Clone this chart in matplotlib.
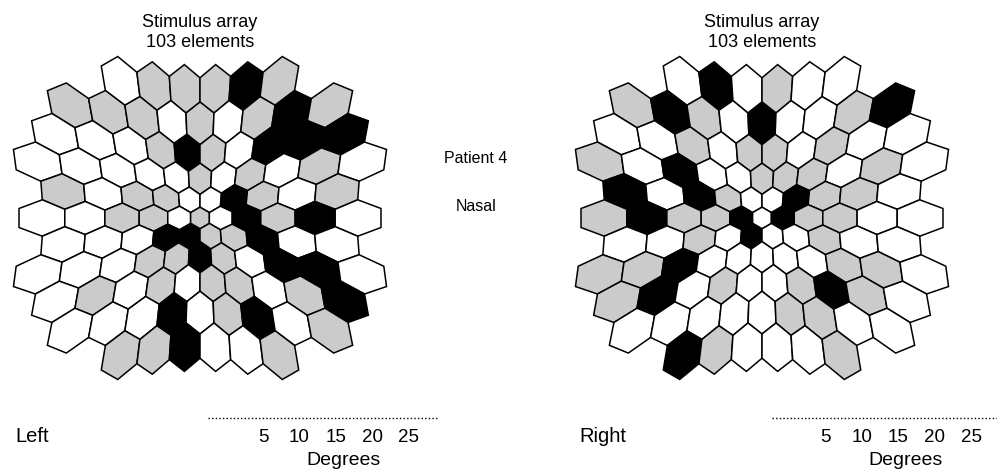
import numpy as np
import matplotlib.pyplot as plt
from matplotlib.patches import Polygon

# colour of each stimulus element, row by row from the top
# (w = white, g = grey, k = black)
left_eye = [
    "wgggkg",
    "gggwgwgkg",
    "wwwgkgwkkk",
    "wwwwwgwgwgw",
    "gwggwwkgwg",
    "wwggwgwkgkw",
    "wwwkkggkww",
    "wwwggkgwkkw",
    "wgwgwggwgk",
    "wwwkwgkwg",
    "ggkwwg",
]
right_eye = [
    "wkwgww",
    "gkgwkwwgk",
    "wwgwggwgww",
    "gwkwwgggwgw",
    "kwkgwwkggw",
    "gkggkwkggww",
    "wwgwkwwgww",
    "ggkwwwwwggw",
    "gkwgwwgkgw",
    "wwwwwggww",
    "kgwwwg",
]
degree_ticks = [5, 10, 15, 20, 25]

fills = {"w": "#ffffff", "g": "#cbcbcb", "k": "#000000"}
A, B = 17.1, 2.87          # radial scaling: pixels per lattice unit = A + B*r
R_HEX = 1 / np.sqrt(3)
ang = np.radians([90, 30, -30, -90, -150, 150])
hex_dx = R_HEX * np.cos(ang)
hex_dy = -R_HEX * np.sin(ang)


def warp(x, y, cx, cy):
    r = np.hypot(x, y)
    s = A + B * r
    return cx + x * s, cy + y * s


def draw_array(ax, rows, cx, cy):
    nrows = len(rows)
    for i, row in enumerate(rows):
        r = i - nrows // 2
        n = len(row)
        for j, c in enumerate(row):
            x0 = j - (n - 1) / 2
            y0 = r * np.sqrt(3) / 2
            px, py = warp(x0 + hex_dx, y0 + hex_dy, cx, cy)
            ax.add_patch(Polygon(np.column_stack([px, py]), closed=True,
                                 facecolor=fills[c], edgecolor="black",
                                 linewidth=1.1, joinstyle="miter"))


fig = plt.figure(figsize=(9.97, 4.71), dpi=100)
ax = fig.add_axes([0, 0, 1, 1])
ax.set_xlim(0, 997)
ax.set_ylim(471, 0)
ax.axis("off")

font = ["Liberation Sans", "DejaVu Sans"]

for rows, cx, name, bar0, x0deg in [(left_eye, 200, "Left", 208, 226.6),
                                    (right_eye, 762, "Right", 772, 789.0)]:
    draw_array(ax, rows, cx, 218)
    ax.text(cx, 27, "Stimulus array", ha="center", va="baseline",
            fontsize=13, family=font)
    ax.text(cx, 47, "103 elements", ha="center", va="baseline",
            fontsize=13, family=font)
    ax.text(bar0 - 193, 442, name, ha="left", va="baseline",
            fontsize=14.5, family=font)
    ax.plot([bar0, bar0 + 229], [418, 418], color="black", lw=1.0,
            ls=(0, (1, 1.6)))
    for d in degree_ticks:
        ax.text(x0deg + d * 7.28, 442, str(d), ha="center", va="baseline",
                fontsize=13.5, family=font)
    ax.text(x0deg + 16 * 7.28, 465, "Degrees", ha="center", va="baseline",
            fontsize=14, family=font)

ax.text(476, 163, "Patient 4", ha="center", va="baseline", fontsize=11.5,
        family=font)
ax.text(476, 211, "Nasal", ha="center", va="baseline", fontsize=11.5,
        family=font)

fig.savefig("out.png", dpi=100)
